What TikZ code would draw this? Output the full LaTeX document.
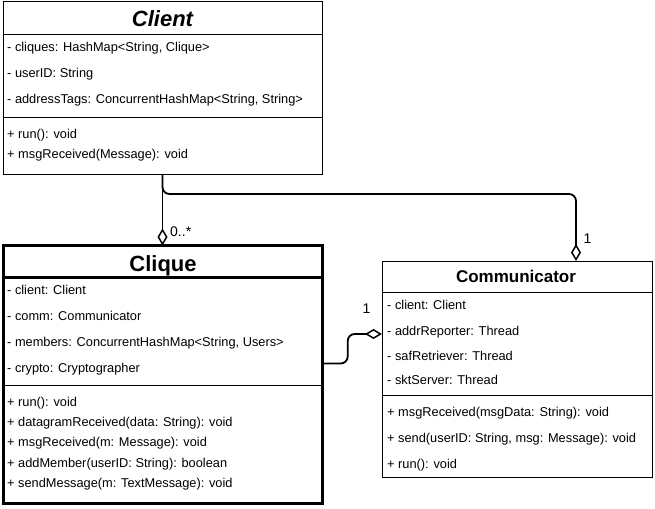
\documentclass[tikz,border=0pt]{standalone}
\usepackage{fontspec}
\setmainfont{Liberation Sans}
\usetikzlibrary{arrows.meta}
\tikzset{
  box/.style={draw, line width=1pt, inner sep=0pt, outer sep=0pt, anchor=north west},
  thickbox/.style={box, line width=3pt},
  attr/.style={anchor=base west, inner sep=0pt, font=\fontsize{12.8}{14}\selectfont},
  mult/.style={anchor=base west, inner sep=0pt, font=\fontsize{14}{16}\selectfont},
  ctitle/.style={anchor=base, inner sep=0pt},
  sep/.style={line width=1pt},
  conn/.style={line width=1.8pt, rounded corners=7pt},
  agg/.style={-{Diamond[open,length=17pt,width=10pt,line width=1.5pt]}}
}
\begin{document}
\begin{tikzpicture}[x=1pt,y=-1pt]
\useasboundingbox (0,0) rectangle (655,508);
% ---------- Client ----------
\node[box, minimum width=319pt, minimum height=172pt] (client) at (3,2) {};
\node[ctitle, font=\fontsize{22}{24}\selectfont\bfseries\itshape] (clientT) at (162.5,27) {Client};
\draw[sep] (3,34.5) -- (322,34.5);
\draw[sep] (3,117) -- (322,117);
\node[attr] (ca1) at (7,52) {- cliques: HashMap<String, Clique>};
\node[attr] (ca2) at (7,77.5) {- userID: String};
\node[attr] (ca3) at (7,103.5) {- addressTags: ConcurrentHashMap<String, String>};
\node[attr] (cm1) at (7,138) {+ run(): void};
\node[attr] (cm2) at (7,158) {+ msgReceived(Message): void};
% ---------- Clique ----------
\node[thickbox, minimum width=319.2pt, minimum height=258pt] (clique) at (3.5,245.5) {};
\node[ctitle, font=\fontsize{22}{24}\selectfont\bfseries] (cliqueT) at (163,271) {Clique};
\draw[line width=3pt] (3.5,277.5) -- (322.7,277.5);
\draw[sep] (3.5,385.5) -- (322.7,385.5);
\node[attr] (qa1) at (7,294.5) {- client: Client};
\node[attr] (qa2) at (7,320.5) {- comm: Communicator};
\node[attr] (qa3) at (7,346.5) {- members: ConcurrentHashMap<String, Users>};
\node[attr] (qa4) at (7,372.5) {- crypto: Cryptographer};
\node[attr] (qm1) at (7,406.5) {+ run(): void};
\node[attr] (qm2) at (7,426.5) {+ datagramReceived(data: String): void};
\node[attr] (qm3) at (7,446.5) {+ msgReceived(m: Message): void};
\node[attr] (qm4) at (7,467) {+ addMember(userID: String): boolean};
\node[attr] (qm5) at (7,487) {+ sendMessage(m: TextMessage): void};
% ---------- Communicator ----------
\node[box, minimum width=270pt, minimum height=216pt] (comm) at (382,261) {};
\node[ctitle, font=\fontsize{17}{19}\selectfont\bfseries] (commT) at (516,282) {Communicator};
\draw[sep] (382,292) -- (652,292);
\draw[sep] (382,395) -- (652,395);
\node[attr] (ma1) at (387,309) {- client: Client};
\node[attr] (ma2) at (387,335) {- addrReporter: Thread};
\node[attr] (ma3) at (387,360) {- safRetriever: Thread};
\node[attr] (ma4) at (387,384.5) {- sktServer: Thread};
\node[attr] (mm1) at (387,416) {+ msgReceived(msgData: String): void};
\node[attr] (mm2) at (387,442.5) {+ send(userID: String, msg: Message): void};
\node[attr] (mm3) at (387,468.5) {+ run(): void};
% ---------- Connectors ----------
\draw[conn,agg] (client.south) -- (client.south |- clique.north);
\draw[conn,agg] (client.south) -- ++(0,20) -| ([xshift=59pt]comm.north);
\draw[conn,agg] ([yshift=11pt]clique.east) -- ++(25,0) |- ([yshift=35pt]comm.west);
% ---------- Multiplicities ----------
\node[mult] (l1) at (170,236) {0..*};
\node[mult] (l2) at (583.5,243.5) {1};
\node[mult] (l3) at (362.5,313) {1};
\end{tikzpicture}
\end{document}
